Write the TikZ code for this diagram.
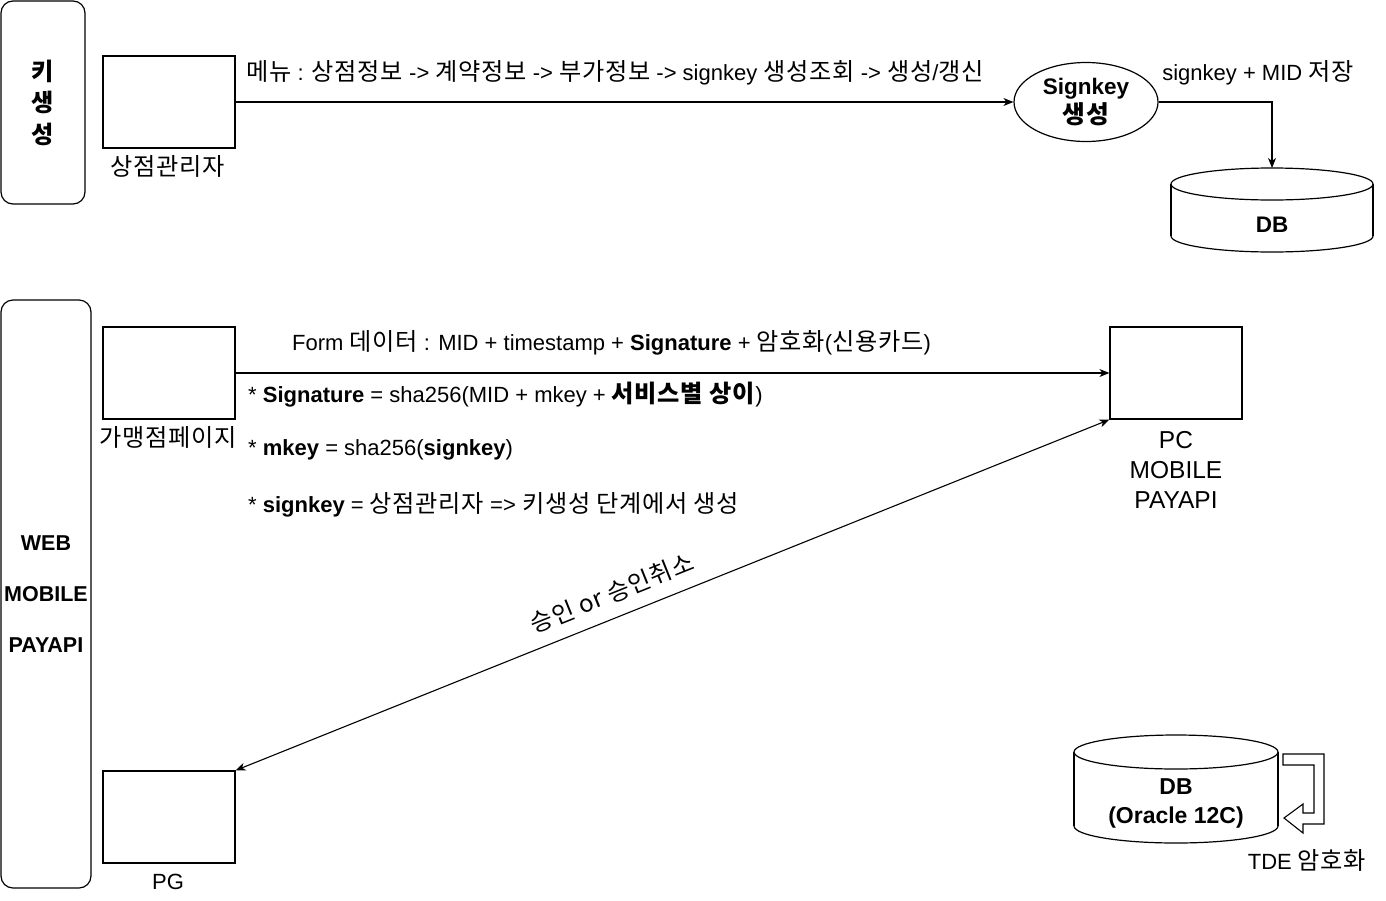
\documentclass[tikz,border=0pt]{standalone}
\usepackage{fontspec}
\setmainfont{Liberation Sans}
\newfontfamily\krfont{Noto Sans CJK KR}[Scale=1.1,LetterSpace=3]
\newfontfamily\krplain{Noto Sans CJK KR}[Scale=1.1]
\newcommand\kr[1]{{\krfont #1}}
\usetikzlibrary{arrows.meta,shapes.geometric}
\tikzset{
  box/.style={draw, line width=1.2pt, minimum width=132pt, minimum height=92pt, inner sep=0pt},
  panel/.style={draw, rounded corners=12pt, line width=1.2pt, inner sep=0pt, align=center},
  lbl/.style={inner sep=0pt, font=\fontsize{22}{26}\selectfont},
  nlbl/.style={inner sep=0pt, align=center, font=\fontsize{22}{30}\selectfont},
  arr/.style={-{Stealth[length=10pt,width=8pt,inset=3pt]}, line width=1.1pt},
  dbarr/.style={{Stealth[length=10pt,width=8pt,inset=3pt]}-{Stealth[length=10pt,width=8pt,inset=3pt]}, line width=1.1pt},
  cyl/.style={line width=1.2pt},
}
\begin{document}
\begin{tikzpicture}[x=1pt,y=-1pt]
\useasboundingbox (0,0) rectangle (1386,900);
\fill[white] (0,0) rectangle (1386,900);

% ---------- top section ----------
\node[panel, minimum width=84pt, minimum height=203pt,
      font=\fontsize{22}{31.5}\selectfont\bfseries\krplain] (kgen) at (43,102.5) {키\\생\\성};

\node[box] (admin) at (169,102) {};
\node[nlbl] (adminl) at (168,166) {\kr{상점관리자}};

\node[draw, ellipse, line width=1.2pt, minimum width=144pt, minimum height=79pt, inner sep=0pt,
      align=center, font=\fontsize{22.5}{29}\selectfont\bfseries] (sk) at (1086,102) {Signkey\\\kr{생성}};

\draw[arr] (admin.east) -- (sk.west);
\node[lbl, anchor=west] (menul) at (246,73)
  {\kr{메뉴} : \kr{상점정보} -> \kr{계약정보} -> \kr{부가정보} -> signkey \kr{생성조회} -> \kr{생성}/\kr{갱신}};

% DB 1
\fill[white] (1171,184) rectangle (1373,236);
\draw[cyl] (1272,236) ellipse [x radius=101, y radius=16];
\fill[white] (1171.8,184) rectangle (1372.2,236);
\draw[cyl] (1171,184) -- (1171,236) (1373,184) -- (1373,236);
\draw[cyl, fill=white] (1272,184) ellipse [x radius=101, y radius=16];
\coordinate (db1top) at (1272,168);
\node[inner sep=0pt, font=\fontsize{22.5}{25}\selectfont\bfseries] (db1) at (1272,225) {DB};

\coordinate (bend1) at (1272,102);
\draw[arr] (sk.east) -- (bend1) -- (db1top);
\node[lbl] (savel) at (1258,73) {signkey + MID \kr{저장}};

% ---------- bottom section ----------
\node[panel, minimum width=90pt, minimum height=588pt,
      font=\fontsize{21.5}{51}\selectfont\bfseries] (web) at (46,594) {WEB\\MOBILE\\PAYAPI};

\node[box] (shop) at (169,373) {};
\node[nlbl] (shopl) at (168,437) {\kr{가맹점페이지}};

\node[box] (pc) at (1176,373) {};
\node[nlbl, font=\fontsize{24.5}{30}\selectfont] (pcl) at (1176,470) {PC\\MOBILE\\PAYAPI};

\node[box] (pg) at (169,817) {};
\node[nlbl] (pgl) at (168,882) {PG};

\draw[arr] (shop.east) -- (pc.west);
\node[lbl, anchor=west] (forml) at (292,343)
  {Form \kr{데이터} : MID + timestamp + \textbf{Signature} + \kr{암호화}(\kr{신용카드})};

\node[lbl, anchor=west] (line1) at (248,395)
  {* \textbf{Signature} = sha256(MID + mkey + \textbf{\kr{서비스별 상이}})};
\node[lbl, anchor=west] (line2) at (248,450)
  {* \textbf{mkey} = sha256(\textbf{signkey})};
\node[lbl, anchor=west] (line3) at (248,505)
  {* \textbf{signkey} = \kr{상점관리자} => \kr{키생성 단계에서 생성}};

\draw[dbarr] (pg.north east) -- (pc.south west);
\node[inner sep=0pt, rotate=21.9, font=\fontsize{22}{26}\selectfont\krfont] (appr) at (612,593) {승인 or 승인취소};

% DB 2
\fill[white] (1074,752) rectangle (1278,826);
\draw[cyl] (1176,826) ellipse [x radius=102, y radius=17];
\fill[white] (1074.8,752) rectangle (1277.2,826);
\draw[cyl] (1074,752) -- (1074,826) (1278,752) -- (1278,826);
\draw[cyl, fill=white] (1176,752) ellipse [x radius=102, y radius=17];
\node[inner sep=0pt, align=center, font=\fontsize{23}{29}\selectfont\bfseries] (db2) at (1176,803.5) {DB\\(Oracle 12C)};

% TDE hollow arrow
\draw[line width=1.1pt] (1283,754) -- (1324,754) -- (1324,824) -- (1303,824) -- (1303,833)
  -- (1284,818) -- (1303,804) -- (1303,813) -- (1314,813) -- (1314,765) -- (1283,765) -- cycle;
\node[lbl] (tdel) at (1307,860) {TDE \kr{암호화}};
\end{tikzpicture}
\end{document}
